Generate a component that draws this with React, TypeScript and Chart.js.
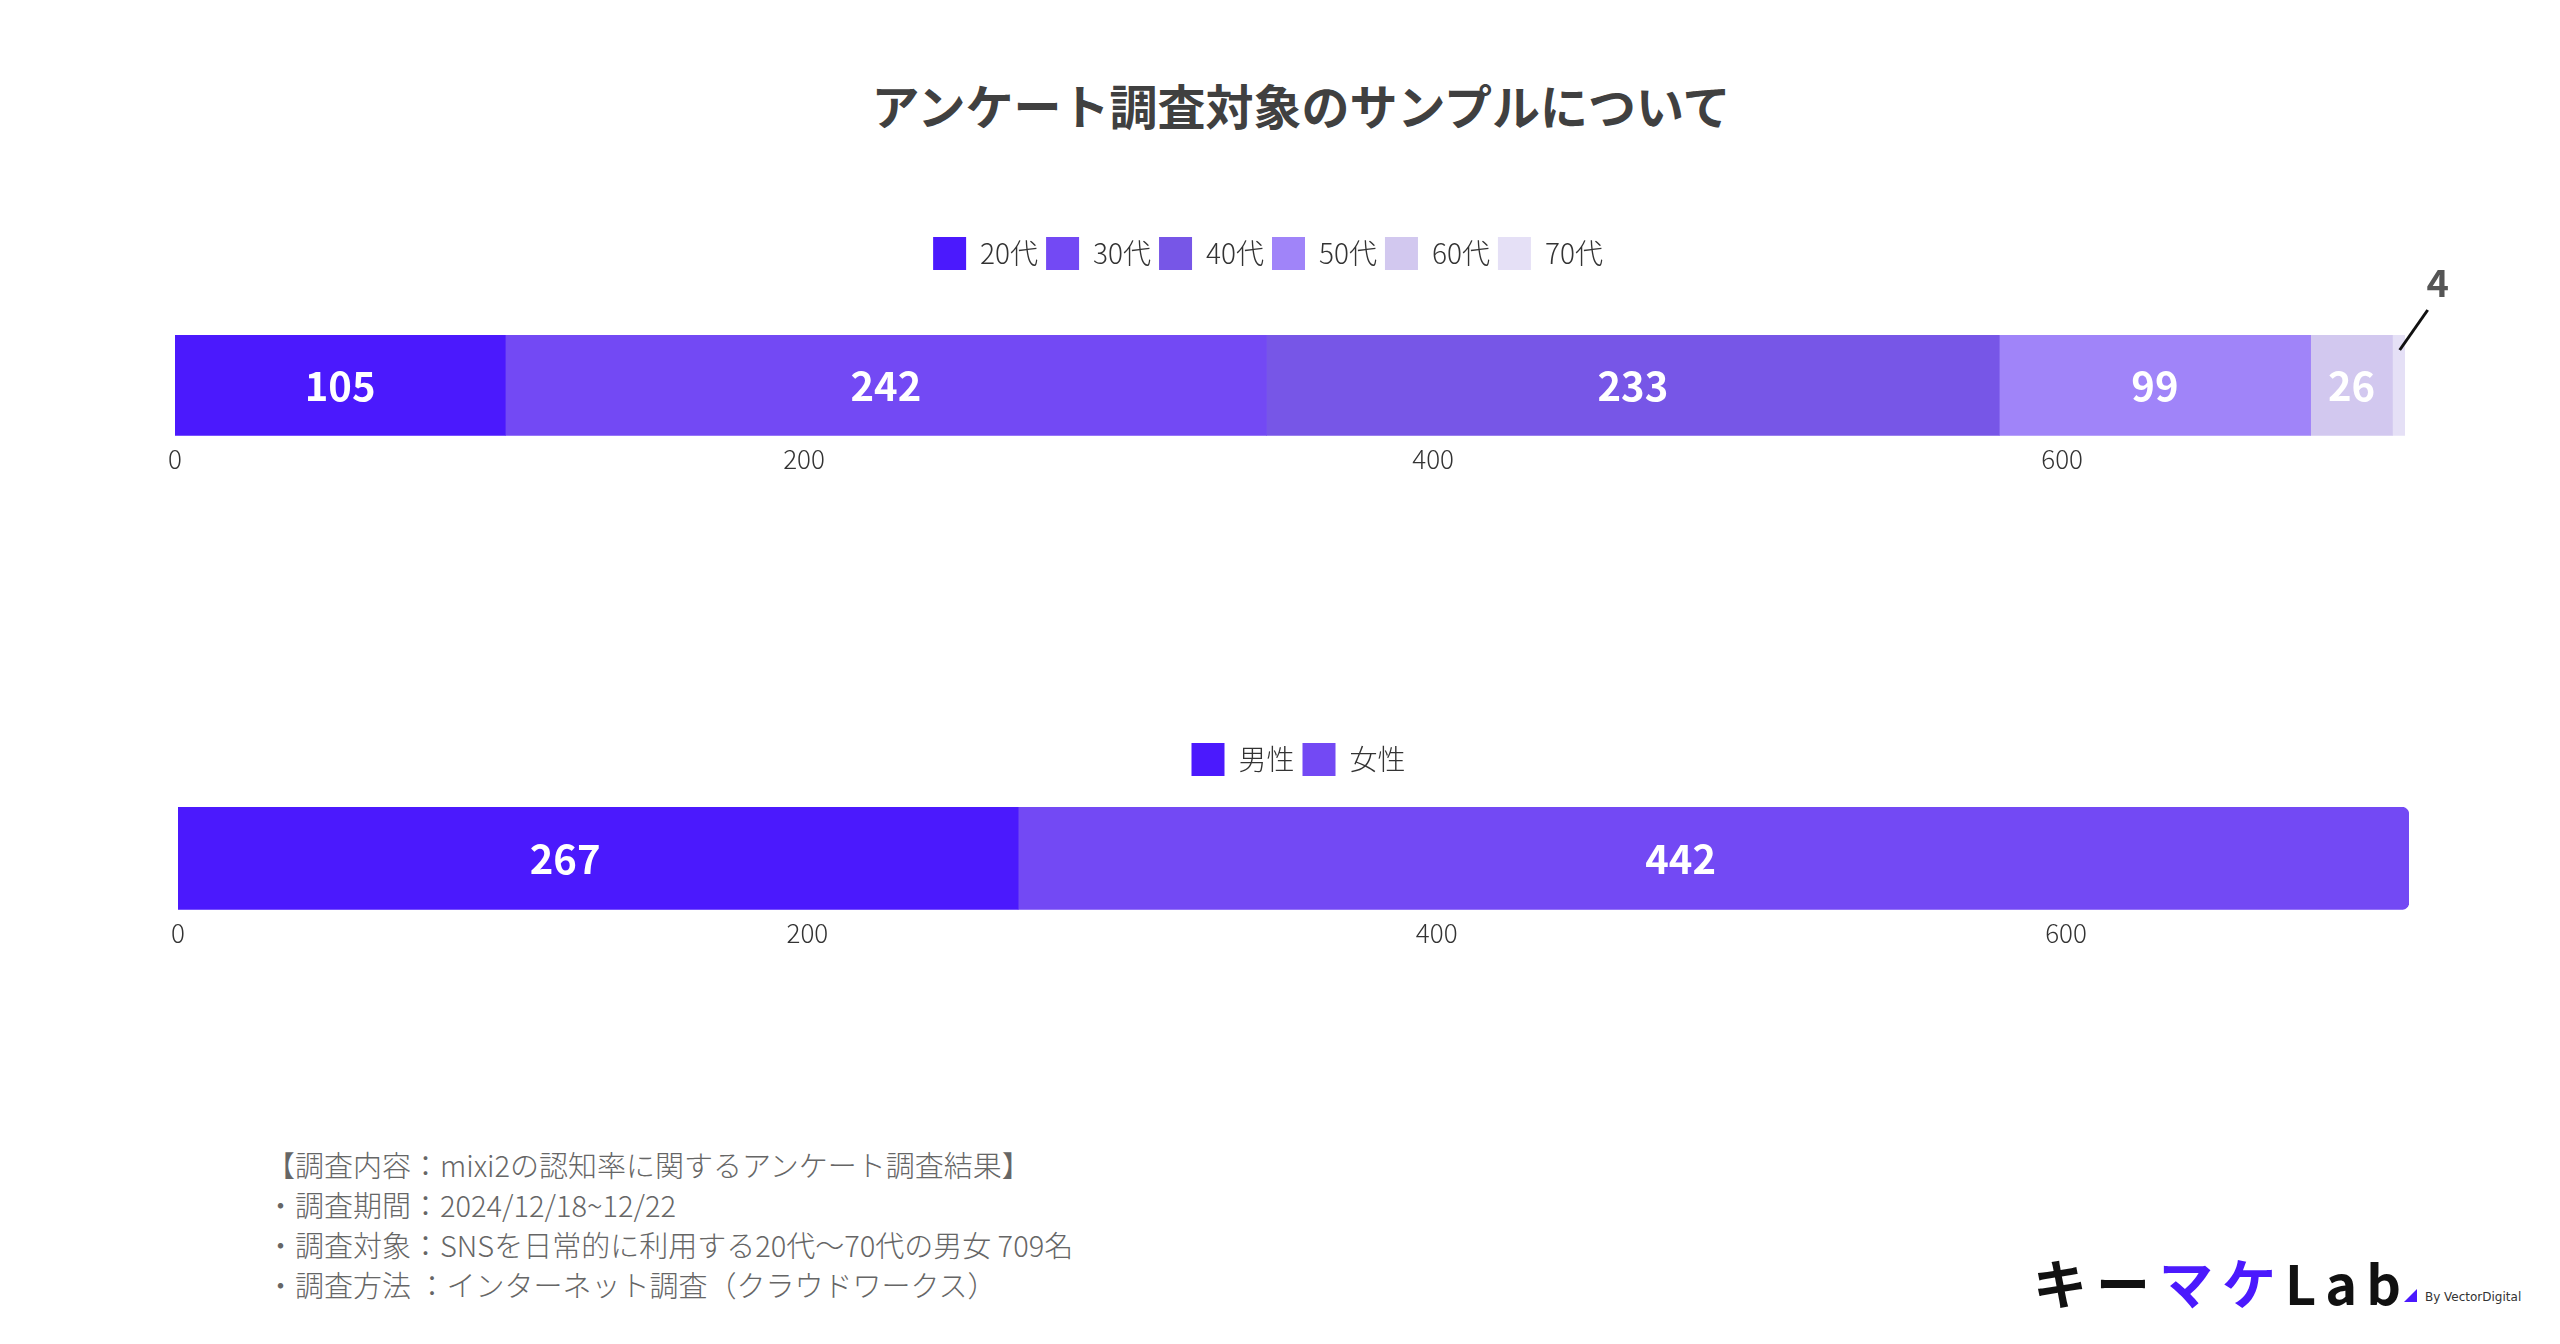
import React, { useEffect, useRef } from "react";
import { Chart, registerables } from "chart.js";

Chart.register(...registerables);

const TITLE = "アンケート調査対象のサンプルについて";

const AGE_LABELS = ["20代", "30代", "40代", "50代", "60代", "70代"];
const AGE_VALUES = [105, 242, 233, 99, 26, 4];
const AGE_COLORS = ["#4b19fd", "#7349f4", "#7756e7", "#a084f9", "#d2c8ef", "#e5e0f6"];

const GENDER_LABELS = ["男性", "女性"];
const GENDER_VALUES = [267, 442];
const GENDER_COLORS = ["#4b19fd", "#7349f4"];

const X_TICKS = [0, 200, 400, 600];

const NOTES = [
  "【調査内容：mixi2の認知率に関するアンケート調査結果】",
  "・調査期間：2024/12/18~12/22",
  "・調査対象：SNSを日常的に利用する20代～70代の男女 709名",
  "・調査方法 ：インターネット調査（クラウドワークス）",
];

const FONT = "'Noto Sans CJK JP', 'Noto Sans', sans-serif";

const makeValueLabels = (labelDx: number) => ({
  id: "valueLabels",
  afterDatasetsDraw(chart: any) {
    const ctx = chart.ctx;
    ctx.save();
    chart.data.datasets.forEach((ds: any, i: number) => {
      const meta = chart.getDatasetMeta(i);
      meta.data.forEach((el: any, j: number) => {
        const v = ds.data[j];
        const cx = (el.x + el.base) / 2;
        const w = Math.abs(el.x - el.base);
        const top = el.y - el.height / 2;
        ctx.textAlign = "center";
        ctx.textBaseline = "middle";
        if (w < 30) {
          ctx.strokeStyle = "#111";
          ctx.lineWidth = 3;
          ctx.beginPath();
          ctx.moveTo(cx + 1, top + 15);
          ctx.lineTo(cx + 29, top - 25);
          ctx.stroke();
          ctx.fillStyle = "#555555";
          ctx.font = `bold 38px ${FONT}`;
          ctx.fillText(String(v), cx + 39, top - 52);
        } else {
          ctx.fillStyle = "#ffffff";
          ctx.font = `bold 40px ${FONT}`;
          ctx.fillText(String(v), cx + labelDx, el.y);
        }
      });
    });
    ctx.restore();
  },
});

const legendAdjust = (extra: number, dx: number) => ({
  id: "legendAdjust",
  beforeInit(chart: any) {
    const orig = chart.legend.fit;
    chart.legend.fit = function () {
      orig.bind(chart.legend)();
      this.height += extra;
    };
  },
  afterLayout(chart: any) {
    chart.legend.left += dx;
    chart.legend.right += dx;
  },
});

function StackBar(props: {
  labels: string[];
  values: number[];
  colors: string[];
  roundEnd: boolean;
  extra: number;
  legendDx: number;
  labelDx: number;
  padLeft: number;
  padRight: number;
  top: number;
  height: number;
}) {
  const ref = useRef<HTMLCanvasElement | null>(null);
  useEffect(() => {
    if (!ref.current) return;
    const total = props.values.reduce((a, b) => a + b, 0);
    const chart = new Chart(ref.current, {
      type: "bar",
      data: {
        labels: [""],
        datasets: props.labels.map((l, i) => ({
          label: l,
          data: [props.values[i]],
          backgroundColor: props.colors[i],
          borderWidth: 0,
          barPercentage: 1,
          categoryPercentage: 1,
          borderRadius: props.roundEnd && i === props.labels.length - 1 ? 8 : 0,
        })),
      },
      options: {
        indexAxis: "y",
        animation: false,
        responsive: false,
        maintainAspectRatio: false,
        layout: { padding: { left: props.padLeft, right: props.padRight, top: 0, bottom: 0 } },
        scales: {
          x: {
            stacked: true,
            min: 0,
            max: total,
            grid: { display: false, drawTicks: false },
            border: { display: false },
            afterBuildTicks(scale: any) {
              scale.ticks = X_TICKS.map((v) => ({ value: v }));
            },
            ticks: {
              padding: 8,
              color: "#333333",
              font: { family: FONT, size: 26, weight: "300" },
            },
          },
          y: { stacked: true, display: false },
        },
        plugins: {
          legend: {
            position: "top",
            labels: {
              boxWidth: 33,
              boxHeight: 33,
              padding: 8,
              color: "#333333",
              font: { family: FONT, size: 28, weight: "300" },
            },
          },
          tooltip: { enabled: false },
        },
      } as any,
      plugins: [makeValueLabels(props.labelDx), legendAdjust(props.extra, props.legendDx)],
    });
    return () => chart.destroy();
  }, []);
  return (
    <canvas
      ref={ref}
      width={2560}
      height={props.height}
      style={{ position: "absolute", left: 0, top: props.top, width: 2560, height: props.height }}
    />
  );
}

export default function App() {
  return (
    <div style={{ position: "absolute", left: 0, top: 0, width: 2560, height: 1344, background: "#ffffff", overflow: "hidden", fontFamily: FONT }}>
      <div style={{ position: "absolute", left: 0, width: 2602, top: 72, textAlign: "center", fontSize: 48, fontWeight: 700, color: "#404040", lineHeight: "64px" }}>
        {TITLE}
      </div>
      <StackBar labels={AGE_LABELS} values={AGE_VALUES} colors={AGE_COLORS} roundEnd={false} extra={55} legendDx={-22} labelDx={0} padLeft={175} padRight={155} top={229} height={254} />
      <StackBar labels={GENDER_LABELS} values={GENDER_VALUES} colors={GENDER_COLORS} roundEnd={true} extra={21} legendDx={5} labelDx={-33} padLeft={178} padRight={151} top={735} height={222} />
      <div style={{ position: "absolute", left: 266, top: 1144, fontSize: 29, lineHeight: "40px", color: "#666666", fontWeight: 300, whiteSpace: "nowrap" }}>
        {NOTES.map((n, i) => (
          <div key={i}>{n}</div>
        ))}
      </div>
      <div style={{ position: "absolute", left: 2033, top: 1250, whiteSpace: "nowrap", display: "flex", alignItems: "flex-end" }}>
        <span style={{ fontSize: 54, fontWeight: 700, letterSpacing: 9, color: "#111", lineHeight: "64px", fontFamily: "'Noto Sans CJK JP', sans-serif" }}>
          キー<span style={{ color: "#4b19fd" }}>マケ</span>Lab
        </span>
        <span style={{ display: "inline-block", width: 0, height: 0, borderLeft: "13px solid transparent", borderBottom: "13px solid #4b19fd", marginBottom: 12, marginLeft: -6 }} />
        <span style={{ fontSize: 12, color: "#333", marginLeft: 8, marginBottom: 10, fontFamily: "'DejaVu Sans', sans-serif" }}>By VectorDigital</span>
      </div>
    </div>
  );
}
